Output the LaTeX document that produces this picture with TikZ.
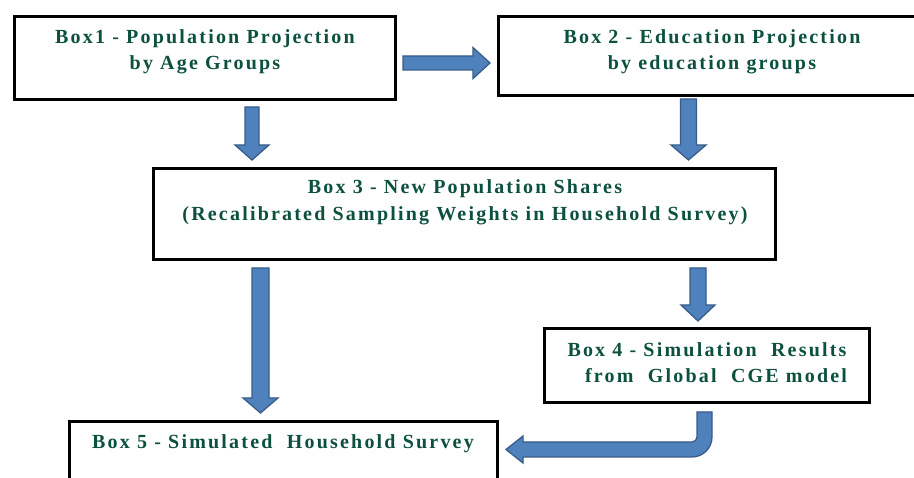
\documentclass[tikz,border=0pt]{standalone}
\usepackage{fontspec}
\setmainfont{Liberation Serif}
\newfontfamily\boxfont[LetterSpace=11]{Liberation Serif}
\usetikzlibrary{calc}

\definecolor{textgreen}{RGB}{12,80,62}
\definecolor{arrowfill}{RGB}{79,129,189}
\definecolor{arrowline}{RGB}{56,93,138}

% vertical block arrow: start, tip, shaft half width, head half width, head length
\newcommand{\downblock}[5]{%
  \filldraw[blockarrow] let \p1=(#1), \p2=(#2) in
    (\x1-#3pt,\y1) -- (\x1+#3pt,\y1) -- (\x1+#3pt,\y2+#5pt) -- (\x1+#4pt,\y2+#5pt)
    -- (\x1,\y2) -- (\x1-#4pt,\y2+#5pt) -- (\x1-#3pt,\y2+#5pt) -- cycle;}
% horizontal block arrow pointing right
\newcommand{\rightblock}[5]{%
  \filldraw[blockarrow] let \p1=(#1), \p2=(#2) in
    (\x1,\y1+#3pt) -- (\x2-#5pt,\y1+#3pt) -- (\x2-#5pt,\y1+#4pt) -- (\x2,\y1)
    -- (\x2-#5pt,\y1-#4pt) -- (\x2-#5pt,\y1-#3pt) -- (\x1,\y1-#3pt) -- cycle;}

\begin{document}
\begin{tikzpicture}[x=1pt,y=-1pt,
  box/.style={draw=black, line width=2.8pt, rectangle, inner sep=0pt},
  label/.style={text=textgreen, align=center, inner sep=0pt,
    font=\boxfont\bfseries\fontsize{20}{26.5}\selectfont},
  blockarrow/.style={fill=arrowfill, draw=arrowline, line width=1.3pt, line join=miter}]

\clip (0,0) rectangle (914,478);
\fill[white] (0,0) rectangle (914,478);

% boxes
\node[box, minimum width=381pt, minimum height=83pt] (b1) at (205,58) {};
\node[box, minimum width=430pt, minimum height=79pt] (b2) at (713.5,56) {};
\node[box, minimum width=622pt, minimum height=91pt] (b3) at (464.5,214) {};
\node[box, minimum width=325pt, minimum height=74pt] (b4) at (707,365.5) {};
\node[box, minimum width=428pt, minimum height=80pt] (b5) at (283.5,461.5) {};

% labels
\node[label] (t1) at (205,52) {Box1 - Population Projection\\by Age Groups};
\node[label] (t2) at (712,52) {Box 2 - Education Projection\\by education groups};
\node[label] (t3) at (465,202.5) {Box 3 - New Population Shares\\(Recalibrated Sampling Weights in Household Survey)};
\node[label] (t4) at (707,362.5) {Box 4 - Simulation\ \ Results\\\hspace*{18pt}from\ \ Global\ \ CGE model};
\node[label] (t5) at (283,443.5) {Box 5 - Simulated\ \ Household Survey};

% arrow end points
\coordinate (a1s) at (403,63);   \coordinate (a1e) at (490,63);
\coordinate (a2s) at (252,107);  \coordinate (a2e) at (252,160);
\coordinate (a3s) at (688.5,99); \coordinate (a3e) at (688.5,160);
\coordinate (a4s) at (260.5,268);\coordinate (a4e) at (260.5,413);
\coordinate (a5s) at (698,268);  \coordinate (a5e) at (698,321);

% arrows
\rightblock{a1s}{a1e}{7}{15.5}{17}
\downblock{a2s}{a2e}{7}{17}{15}
\downblock{a3s}{a3e}{8}{17.5}{15}
\downblock{a4s}{a4e}{8.5}{17.5}{15}
\downblock{a5s}{a5e}{8}{17}{16}

% bent arrow from box 4 into box 5
\filldraw[blockarrow] (697,412) -- (712,412) -- (712,437)
  arc[start angle=0, end angle=-90, radius=20pt] -- (523,457) -- (523,463)
  -- (506,449.5) -- (523,436) -- (523,442) -- (692,442)
  arc[start angle=-90, end angle=0, radius=5pt] -- cycle;
\end{tikzpicture}
\end{document}
